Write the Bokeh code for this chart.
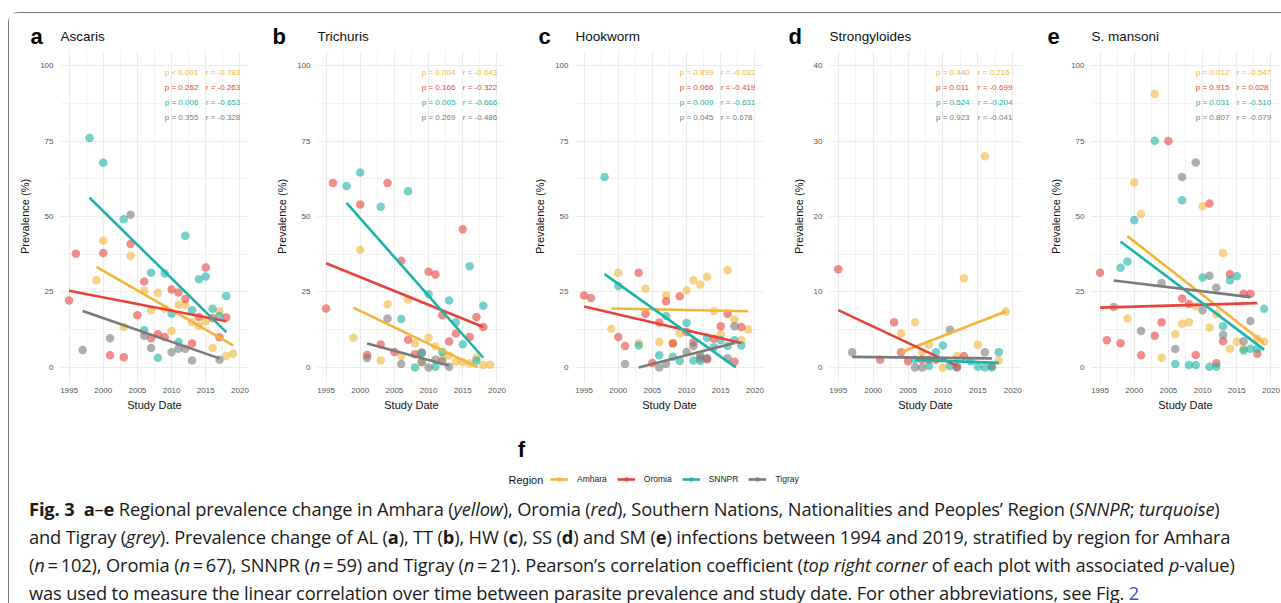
from bokeh.plotting import figure
from bokeh.models import (SingleIntervalTicker, Label, Legend, LegendItem, Div,
                          Range1d, ColumnDataSource)
from bokeh.layouts import row, column
from bokeh.embed import file_html
from bokeh.resources import INLINE
from bokeh.core.properties import value

REGIONS = ["Amhara", "Oromia", "SNNPR", "Tigray"]
COLORS = ["#F2B53A", "#E8433A", "#1DB3A8", "#7A7A7A"]
FONT = "Liberation Sans"

# ---------------- a: Ascaris ----------------
ASC_AMH_YR = [1999, 2000, 2003, 2004, 2006, 2007, 2008, 2009, 2010, 2011, 2012, 2013, 2014, 2015, 2016, 2017, 2018, 2019]
ASC_AMH_PV = [28.9, 42.0, 13.4, 36.9, 25.4, 18.9, 24.7, 19.4, 12.1, 20.8, 20.8, 15.0, 13.7, 15.3, 6.4, 18.5, 3.8, 4.5]
ASC_ORO_YR = [1995, 1996, 2000, 2001, 2003, 2004, 2005, 2006, 2007, 2008, 2009, 2010, 2011, 2012, 2013, 2014, 2015, 2016, 2017, 2018]
ASC_ORO_PV = [22.2, 37.7, 37.9, 4.0, 3.4, 40.9, 17.3, 28.5, 9.7, 11.0, 10.1, 25.8, 24.8, 22.7, 7.9, 16.7, 33.1, 16.4, 10.0, 16.5]
ASC_SNN_YR = [1998, 2000, 2003, 2006, 2007, 2008, 2009, 2010, 2011, 2012, 2013, 2014, 2015, 2016, 2017, 2018]
ASC_SNN_PV = [76.0, 67.8, 49.1, 12.3, 31.4, 3.2, 31.1, 17.8, 8.4, 43.6, 18.9, 29.2, 30.1, 19.4, 17.0, 23.7]
ASC_TIG_YR = [1997, 2001, 2004, 2006, 2007, 2010, 2011, 2012, 2013, 2017]
ASC_TIG_PV = [5.8, 9.7, 50.6, 10.5, 6.4, 5.0, 6.2, 6.2, 2.3, 2.5]
ASC_FIT_X0 = [1999.0, 1995.0, 1998.0, 1997.0]
ASC_FIT_Y0 = [33.3, 25.4, 56.2, 18.7]
ASC_FIT_X1 = [2019.0, 2018.0, 2018.0, 2017.0]
ASC_FIT_Y1 = [7.3, 15.3, 11.7, 3.0]
ASC_P = ["p < 0.001", "p = 0.262", "p = 0.006", "p = 0.355"]
ASC_R = ["r = -0.783", "r = -0.263", "r = -0.653", "r = -0.328"]

# ---------------- b: Trichuris ----------------
TRI_AMH_YR = [1999, 2000, 2003, 2004, 2006, 2007, 2008, 2009, 2010, 2011, 2012, 2013, 2014, 2015, 2016, 2017, 2018, 2019]
TRI_AMH_PV = [9.8, 39.0, 2.3, 20.9, 3.9, 22.5, 8.0, 1.9, 9.8, 7.0, 3.2, 3.9, 1.9, 1.7, 1.3, 3.2, 0.8, 0.9]
TRI_ORO_YR = [1995, 1996, 2000, 2001, 2003, 2004, 2005, 2006, 2007, 2008, 2009, 2010, 2011, 2012, 2013, 2014, 2015, 2016, 2017, 2018]
TRI_ORO_PV = [19.5, 61.1, 54.0, 4.1, 7.6, 61.1, 5.1, 35.3, 9.2, 4.4, 4.9, 31.7, 30.8, 17.3, 8.6, 11.2, 45.8, 10.1, 16.7, 13.4]
TRI_SNN_YR = [1998, 2000, 2003, 2006, 2007, 2008, 2009, 2010, 2011, 2012, 2013, 2014, 2015, 2016, 2017, 2018]
TRI_SNN_PV = [60.1, 64.6, 53.2, 16.0, 58.4, 0.0, 4.8, 24.2, 0.2, 5.1, 22.2, 15.0, 7.7, 33.5, 2.2, 20.4]
TRI_TIG_YR = [2001, 2004, 2006, 2009, 2010, 2011, 2012, 2013]
TRI_TIG_PV = [3.1, 16.2, 1.1, 1.7, 0.0, 2.5, 2.0, 0.2]
TRI_FIT_X0 = [1999.0, 1995.0, 1998.0, 2001.0]
TRI_FIT_Y0 = [19.8, 34.5, 54.5, 7.9]
TRI_FIT_X1 = [2017.2, 2018.0, 2018.0, 2013.0]
TRI_FIT_Y1 = [0.0, 13.4, 3.2, 0.6]
TRI_P = ["p = 0.004", "p = 0.166", "p = 0.005", "p = 0.269"]
TRI_R = ["r = -0.643", "r = -0.322", "r = -0.666", "r = -0.486"]

# ---------------- c: Hookworm ----------------
HOO_AMH_YR = [1999, 2000, 2003, 2004, 2006, 2007, 2008, 2009, 2010, 2011, 2012, 2013, 2014, 2015, 2016, 2017, 2018, 2019]
HOO_AMH_PV = [12.8, 31.4, 8.1, 26.1, 8.4, 23.9, 8.1, 11.2, 25.6, 28.9, 27.5, 30.0, 18.7, 11.0, 32.2, 15.9, 9.0, 12.6]
HOO_ORO_YR = [1995, 1996, 2000, 2001, 2003, 2004, 2005, 2006, 2007, 2008, 2009, 2010, 2011, 2012, 2013, 2014, 2015, 2016, 2017, 2018]
HOO_ORO_PV = [23.8, 23.0, 10.1, 7.1, 31.4, 17.8, 1.5, 14.9, 21.9, 7.9, 23.6, 11.7, 8.3, 3.0, 2.7, 9.5, 13.6, 17.8, 1.9, 13.4]
HOO_SNN_YR = [1998, 2000, 2003, 2006, 2007, 2008, 2009, 2010, 2011, 2012, 2013, 2014, 2015, 2016, 2017, 2018]
HOO_SNN_PV = [63.1, 27.0, 7.3, 4.0, 17.0, 3.5, 2.1, 14.7, 2.3, 2.1, 9.8, 6.7, 9.0, 7.1, 9.0, 7.3]
HOO_TIG_YR = [2001, 2006, 2007, 2010, 2011, 2012, 2013, 2016, 2017]
HOO_TIG_PV = [1.1, 0.0, 1.1, 5.1, 7.1, 4.0, 3.0, 3.0, 13.6]
HOO_FIT_X0 = [1999.0, 1995.0, 1998.0, 2003.0]
HOO_FIT_Y0 = [19.5, 20.2, 30.9, 0.0]
HOO_FIT_X1 = [2019.0, 2018.0, 2017.2, 2017.0]
HOO_FIT_Y1 = [18.6, 8.1, 0.0, 8.1]
HOO_P = ["p = 0.899", "p = 0.066", "p = 0.009", "p = 0.045"]
HOO_R = ["r = -0.032", "r = -0.419", "r = -0.631", "r = 0.678"]

# ---------------- d: Strongyloides ----------------
STR_AMH_YR = [2004, 2006, 2007, 2008, 2010, 2012, 2013, 2015, 2016, 2018, 2019]
STR_AMH_PV = [4.5, 6.0, 2.0, 3.0, 0.0, 1.5, 11.8, 3.0, 28.0, 0.9, 7.4]
STR_ORO_YR = [1995, 2001, 2003, 2004, 2005, 2007, 2008, 2009, 2012, 2013]
STR_ORO_PV = [13.0, 1.0, 6.0, 2.0, 0.8, 1.0, 1.0, 1.0, 0.1, 1.5]
STR_SNN_YR = [2006, 2008, 2009, 2010, 2011, 2014, 2015, 2016, 2017, 2018]
STR_SNN_PV = [1.0, 0.2, 2.0, 2.9, 0.2, 0.8, 0.1, 0.0, 0.0, 2.0]
STR_TIG_YR = [1997, 2006, 2007, 2011, 2012, 2016, 2017]
STR_TIG_PV = [2.0, 0.0, 0.0, 5.0, 0.0, 2.0, 0.2]
STR_FIT_X0 = [2004.0, 1995.0, 2006.0, 1997.0]
STR_FIT_Y0 = [2.0, 7.6, 1.0, 1.4]
STR_FIT_X1 = [2019.0, 2012.0, 2018.0, 2017.0]
STR_FIT_Y1 = [7.4, 0.2, 0.6, 1.2]
STR_P = ["p = 0.440", "p = 0.011", "p = 0.524", "p = 0.923"]
STR_R = ["r = 0.216", "r = -0.699", "r = -0.204", "r = -0.041"]

# ---------------- e: S. mansoni ----------------
SMA_AMH_YR = [1999, 2000, 2001, 2003, 2004, 2006, 2007, 2008, 2009, 2010, 2011, 2012, 2013, 2014, 2015, 2016, 2018, 2019]
SMA_AMH_PV = [16.2, 61.3, 50.8, 90.6, 3.2, 11.0, 14.5, 15.0, 20.2, 53.4, 13.2, 17.6, 37.9, 6.2, 8.5, 6.2, 9.5, 8.5]
SMA_ORO_YR = [1995, 1996, 1998, 2001, 2003, 2004, 2005, 2007, 2008, 2009, 2011, 2012, 2013, 2014, 2016, 2017, 2018]
SMA_ORO_PV = [31.4, 9.0, 8.0, 4.0, 10.5, 15.0, 75.0, 22.8, 21.0, 4.1, 54.3, 1.4, 8.7, 30.9, 24.4, 24.4, 4.5]
SMA_SNN_YR = [1998, 1999, 2000, 2003, 2006, 2007, 2008, 2009, 2010, 2011, 2012, 2013, 2014, 2015, 2016, 2017, 2018, 2019]
SMA_SNN_PV = [33.0, 35.1, 48.8, 75.1, 1.1, 55.4, 0.8, 0.8, 29.8, 0.2, 0.2, 13.6, 28.9, 30.2, 5.6, 6.2, 6.2, 19.4]
SMA_TIG_YR = [1997, 2001, 2004, 2006, 2007, 2009, 2010, 2011, 2012, 2013, 2016, 2017]
SMA_TIG_PV = [20.0, 12.1, 28.0, 6.1, 63.1, 67.9, 18.9, 30.4, 26.4, 10.8, 8.7, 15.4]
SMA_FIT_X0 = [1999.0, 1995.0, 1998.0, 1997.0]
SMA_FIT_Y0 = [43.5, 19.8, 41.7, 28.8]
SMA_FIT_X1 = [2019.0, 2018.0, 2019.0, 2017.0]
SMA_FIT_Y1 = [8.1, 21.3, 5.9, 23.3]
SMA_P = ["p = 0.012", "p = 0.915", "p = 0.031", "p = 0.807"]
SMA_R = ["r = -0.547", "r = 0.028", "r = -0.510", "r = -0.079"]

PANEL_LETTERS = ["a", "b", "c", "d", "e"]
PANEL_TITLES = ["Ascaris", "Trichuris", "Hookworm", "Strongyloides", "S. mansoni"]

FRAME_H = 332
GRID = "#EBEBEB"
BLEFT = 51
WIDTHS = [257, 258, 254, 262, 241]
BRIGHTS = [18, 19, 15, 19, 2]
LETTER_DX = [-30, -45, -37, -41, -44]


def make_panel(series, fx0, fy0, fx1, fy1, ptxt, rtxt, ymax, ystep, width, bright):
    p = figure(width=width, height=FRAME_H + 40, output_backend="svg", toolbar_location=None,
               x_range=Range1d(1993.75, 2021.25),
               y_range=Range1d(-0.05 * ymax, 1.05 * ymax),
               min_border_left=BLEFT, min_border_right=bright,
               min_border_top=0, min_border_bottom=40)
    p.outline_line_color = None
    p.background_fill_color = "white"
    p.border_fill_color = "white"
    p.xaxis.ticker = SingleIntervalTicker(interval=5, num_minor_ticks=2)
    p.yaxis.ticker = SingleIntervalTicker(interval=ystep, num_minor_ticks=2)
    for ax in (p.xaxis, p.yaxis):
        ax.axis_line_color = None
        ax.major_tick_line_color = None
        ax.minor_tick_line_color = None
        ax.major_tick_out = 0
        ax.major_tick_in = 0
        ax.minor_tick_out = 0
        ax.minor_tick_in = 0
        ax.major_label_text_font_size = "8px"
        ax.major_label_text_color = "#555555"
        ax.major_label_text_font = FONT
        ax.axis_label_text_font = FONT
        ax.axis_label_text_font_size = "11px"
        ax.axis_label_text_font_style = "normal"
        ax.axis_label_text_color = "#111111"
    p.xaxis.axis_label = "Study Date"
    p.yaxis.axis_label = "Prevalence (%)"
    p.xaxis.major_label_standoff = 5
    p.xaxis.axis_label_standoff = 3
    p.yaxis.major_label_standoff = 7
    p.yaxis.axis_label_standoff = 6
    for g in (p.xgrid, p.ygrid):
        g.grid_line_color = GRID
        g.grid_line_width = 1.1
        g.minor_grid_line_color = GRID
        g.minor_grid_line_width = 0.6

    for (yr, pv), c in zip(series, COLORS):
        p.scatter(yr, pv, size=8.5, fill_color=c, fill_alpha=0.6, line_color=None)

    src = ColumnDataSource(dict(x0=fx0, y0=fy0, x1=fx1, y1=fy1, c=COLORS))
    p.segment(x0="x0", y0="y0", x1="x1", y1="y1", color="c", line_width=2.6,
              line_cap="butt", source=src)

    rows_y = [ymax * (0.977 - 0.05 * i) for i in range(4)]
    tsrc = ColumnDataSource(dict(xp=[2009.0] * 4, xr=[2015.0] * 4, y=rows_y,
                                 pt=ptxt, rt=rtxt, c=COLORS))
    p.text(x="xp", y="y", text="pt", text_color="c", text_font_size="8px",
           text_baseline="middle", text_font=value(FONT), source=tsrc)
    p.text(x="xr", y="y", text="rt", text_color="c", text_font_size="8px",
           text_baseline="middle", text_font=value(FONT), source=tsrc)
    return p


pa = make_panel([(ASC_AMH_YR, ASC_AMH_PV), (ASC_ORO_YR, ASC_ORO_PV), (ASC_SNN_YR, ASC_SNN_PV), (ASC_TIG_YR, ASC_TIG_PV)],
                ASC_FIT_X0, ASC_FIT_Y0, ASC_FIT_X1, ASC_FIT_Y1, ASC_P, ASC_R, 100, 25, WIDTHS[0], BRIGHTS[0])
pb = make_panel([(TRI_AMH_YR, TRI_AMH_PV), (TRI_ORO_YR, TRI_ORO_PV), (TRI_SNN_YR, TRI_SNN_PV), (TRI_TIG_YR, TRI_TIG_PV)],
                TRI_FIT_X0, TRI_FIT_Y0, TRI_FIT_X1, TRI_FIT_Y1, TRI_P, TRI_R, 100, 25, WIDTHS[1], BRIGHTS[1])
pc = make_panel([(HOO_AMH_YR, HOO_AMH_PV), (HOO_ORO_YR, HOO_ORO_PV), (HOO_SNN_YR, HOO_SNN_PV), (HOO_TIG_YR, HOO_TIG_PV)],
                HOO_FIT_X0, HOO_FIT_Y0, HOO_FIT_X1, HOO_FIT_Y1, HOO_P, HOO_R, 100, 25, WIDTHS[2], BRIGHTS[2])
pd = make_panel([(STR_AMH_YR, STR_AMH_PV), (STR_ORO_YR, STR_ORO_PV), (STR_SNN_YR, STR_SNN_PV), (STR_TIG_YR, STR_TIG_PV)],
                STR_FIT_X0, STR_FIT_Y0, STR_FIT_X1, STR_FIT_Y1, STR_P, STR_R, 40, 10, WIDTHS[3], BRIGHTS[3])
pe = make_panel([(SMA_AMH_YR, SMA_AMH_PV), (SMA_ORO_YR, SMA_ORO_PV), (SMA_SNN_YR, SMA_SNN_PV), (SMA_TIG_YR, SMA_TIG_PV)],
                SMA_FIT_X0, SMA_FIT_Y0, SMA_FIT_X1, SMA_FIT_Y1, SMA_P, SMA_R, 100, 25, WIDTHS[4], BRIGHTS[4])


def strip(height):
    s = figure(width=sum(WIDTHS), height=height, output_backend="svg", toolbar_location=None,
               x_range=Range1d(0, 1), y_range=Range1d(0, 1),
               x_axis_type=None, y_axis_type=None,
               min_border=0, min_border_left=0, min_border_right=0,
               min_border_top=0, min_border_bottom=0)
    s.outline_line_color = None
    s.xgrid.visible = False
    s.ygrid.visible = False
    return s


# ---------------- header strip with panel letters and titles ----------------
ph = strip(37)
left = 0
for letter, title, w, dx in zip(PANEL_LETTERS, PANEL_TITLES, WIDTHS, LETTER_DX):
    fl = left + BLEFT
    ph.add_layout(Label(x=fl + dx, y=14, x_units="screen", y_units="screen",
                        text=letter, text_font_size="22px", text_font_style="bold",
                        text_baseline="middle", text_align="left", text_font=FONT,
                        text_color="#000000"))
    ph.add_layout(Label(x=fl, y=14, x_units="screen", y_units="screen",
                        text=title, text_font_size="13.5px", text_baseline="middle",
                        text_align="left", text_font=FONT, text_color="#111111"))
    left += w

# ---------------- f: legend strip ----------------
pf = strip(68)
items = []
for name, c in zip(REGIONS, COLORS):
    rl = pf.line(x=[-2, -1], y=[-2, -1], line_color=c, line_width=2.6)
    rs = pf.scatter(x=[-2], y=[-2], size=6.5, fill_color=c, fill_alpha=0.6, line_color=None)
    items.append(LegendItem(label=name, renderers=[rl, rs]))
leg = Legend(items=items, orientation="horizontal", location=(541, 5),
             glyph_width=18, glyph_height=12, label_text_font_size="8.5px",
             label_text_font=FONT, label_text_color="#222222",
             label_standoff=9, spacing=10, padding=0, margin=0,
             border_line_color=None, background_fill_alpha=0)
pf.add_layout(leg)
pf.add_layout(Label(x=499, y=11, x_units="screen", y_units="screen", text="Region",
                    text_font_size="11px", text_baseline="middle", text_font=FONT,
                    text_color="#111111"))
pf.add_layout(Label(x=512, y=41, x_units="screen", y_units="screen", text="f",
                    text_font_size="22px", text_font_style="bold", text_align="center",
                    text_baseline="middle", text_font=FONT, text_color="#000000"))

CAPTION = (
    "<b>Fig. 3</b>&nbsp; <b>a</b>–<b>e</b> Regional prevalence change in Amhara (<i>yellow</i>), "
    "Oromia (<i>red</i>), Southern Nations, Nationalities and Peoples’ Region (<i>SNNPR</i>; <i>turquoise</i>)<br>"
    "and Tigray (<i>grey</i>). Prevalence change of AL (<b>a</b>), TT (<b>b</b>), HW (<b>c</b>), SS (<b>d</b>) "
    "and SM (<b>e</b>) infections between 1994 and 2019, stratified by region for Amhara<br>"
    "(<i>n</i>\u2009=\u2009102), Oromia (<i>n</i>\u2009=\u200967), SNNPR (<i>n</i>\u2009=\u200959) and Tigray "
    "(<i>n</i>\u2009=\u200921). Pearson’s correlation coefficient (<i>top right corner</i> of each plot with "
    "associated <i>p</i>-value)<br>"
    "was used to measure the linear correlation over time between parasite prevalence and study date. "
    "For other abbreviations, see Fig. <span style='color:#2b59c3'>2</span>"
)
cap = Div(text=CAPTION, width=sum(WIDTHS), height=111,
          styles={"font-family": "'Open Sans'", "font-size": "18.3px", "line-height": "28px",
                  "white-space": "nowrap", "padding-left": "15px", "color": "#1a1a1a",
                  "letter-spacing": "-0.15px"})

root = column(ph, row(pa, pb, pc, pd, pe), pf, cap, margin=(12, 0, 0, 8),
              styles={"border-left": "1px solid #777777", "border-top": "1px solid #777777",
                      "border-top-left-radius": "10px"})

open("out.html", "w").write(file_html(root, INLINE))
